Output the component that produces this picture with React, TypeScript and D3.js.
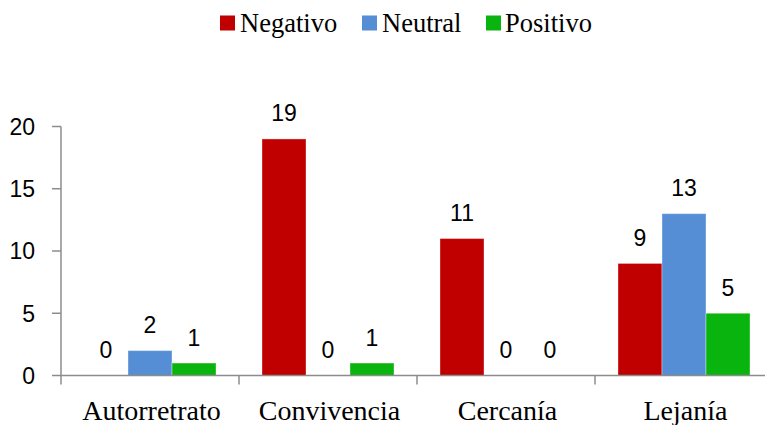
import React from "react";
import * as d3 from "d3";

const categories = ["Autorretrato", "Convivencia", "Cercanía", "Lejanía"];
const seriesNames = ["Negativo", "Neutral", "Positivo"];
const negativo = [0, 19, 11, 9];
const neutral = [2, 0, 0, 13];
const positivo = [1, 1, 0, 5];
const yTicks = [0, 5, 10, 15, 20];
const colors = ["#C00000", "#558ED5", "#0AB40E"];

const W = 765;
const H = 425;

export default function App() {
  const values = [negativo, neutral, positivo];
  const x0 = 61;
  const catW = 178;
  const x = d3
    .scaleBand<string>()
    .domain(categories)
    .range([x0, x0 + catW * categories.length])
    .paddingInner(0)
    .paddingOuter(0);
  const inner = d3
    .scaleBand<string>()
    .domain(seriesNames)
    .range([23, catW - 23])
    .padding(0);
  const y = d3.scaleLinear().domain([0, 20]).range([375.5, 126.5]);
  const axisColor = "#8C8C8C";
  const numFont = "Liberation Sans, Arial, sans-serif";
  const serif = "Liberation Serif, Tinos, Times New Roman, DejaVu Serif, serif";

  const legendItems = [
    { name: "Negativo", sx: 220, tx: 240 },
    { name: "Neutral", sx: 362, tx: 382 },
    { name: "Positivo", sx: 486, tx: 505 },
  ];

  const tickXs = categories.map((c) => x(c) as number).concat([x0 + catW * categories.length]);

  return (
    <svg
      width={W}
      height={H}
      style={{ position: "absolute", left: 0, top: 0, background: "#fff" }}
    >
      {/* legend */}
      {legendItems.map((l, i) => (
        <g key={l.name}>
          <rect x={l.sx} y={15.5} width={15} height={15} fill={colors[i]} />
          <text x={l.tx} y={31.5} style={{ fontFamily: serif, fontSize: "26.5px" }} fill="#000">
            {l.name}
          </text>
        </g>
      ))}

      {/* bars */}
      {categories.map((c, ci) =>
        seriesNames.map((s, si) => {
          const v = values[si][ci];
          const bx = (x(c) as number) + (inner(s) as number);
          const bw = inner.bandwidth();
          return (
            <g key={c + s}>
              {v > 0 && (
                <rect
                  x={bx}
                  y={y(v)}
                  width={bw}
                  height={y(0) - y(v)}
                  fill={colors[si]}
                  stroke="rgba(255,255,255,0.35)"
                  strokeWidth={1}
                />
              )}
              <text
                x={bx + bw / 2}
                y={y(v) - 17.5}
                textAnchor="middle"
                style={{ fontFamily: numFont, fontSize: "23px" }}
                fill="#000"
              >
                {v}
              </text>
            </g>
          );
        })
      )}

      {/* y axis */}
      <line x1={x0} x2={x0} y1={y(20)} y2={y(0)} stroke={axisColor} strokeWidth={1.5} />
      {yTicks.map((t) => (
        <g key={t}>
          <line x1={x0 - 9} x2={x0} y1={y(t)} y2={y(t)} stroke={axisColor} strokeWidth={1.5} />
          <text
            x={35}
            y={y(t)}
            dy="0.36em"
            textAnchor="end"
            style={{ fontFamily: numFont, fontSize: "23px" }}
            fill="#000"
          >
            {t}
          </text>
        </g>
      ))}

      {/* x axis */}
      <line x1={x0} x2={W} y1={y(0)} y2={y(0)} stroke={axisColor} strokeWidth={1.5} />
      {tickXs.map((tx, i) => (
        <line key={i} x1={tx} x2={tx} y1={y(0)} y2={y(0) + 9} stroke={axisColor} strokeWidth={1.5} />
      ))}
      {categories.map((c) => (
        <text
          key={c}
          x={(x(c) as number) + catW / 2 + 1.5}
          y={420}
          textAnchor="middle"
          style={{ fontFamily: serif, fontSize: "28px" }}
          fill="#000"
        >
          {c}
        </text>
      ))}
    </svg>
  );
}
